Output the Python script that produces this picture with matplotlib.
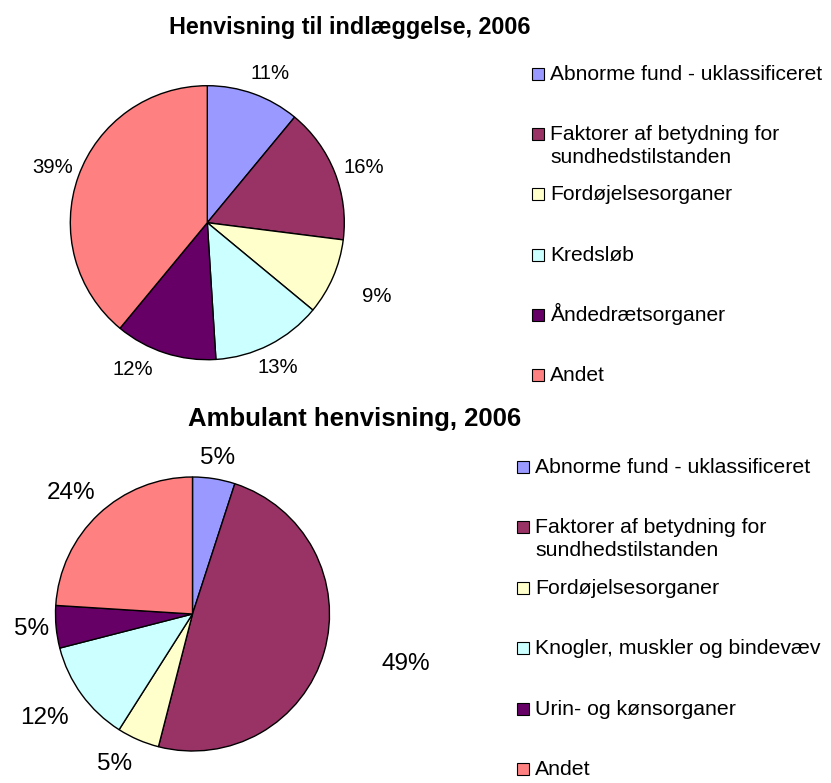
import numpy as np
import matplotlib.pyplot as plt
from matplotlib.patches import Rectangle

plt.rcParams['font.family'] = ['Liberation Sans', 'DejaVu Sans']

# --- data ---
title_top = 'Henvisning til indlæggelse, 2006'
cats_top = ['Abnorme fund - uklassificeret', 'Faktorer af betydning for\nsundhedstilstanden',
            'Fordøjelsesorganer', 'Kredsløb', 'Åndedrætsorganer', 'Andet']
vals_top = [11, 16, 9, 13, 12, 39]

title_bot = 'Ambulant henvisning, 2006'
cats_bot = ['Abnorme fund - uklassificeret', 'Faktorer af betydning for\nsundhedstilstanden',
            'Fordøjelsesorganer', 'Knogler, muskler og bindevæv', 'Urin- og kønsorganer', 'Andet']
vals_bot = [5, 49, 5, 12, 5, 24]

colors = ['#9999FF', '#993366', '#FFFFCC', '#CCFFFF', '#660066', '#FF8080']

# label placement (distance in radii, angle nudge in degrees)
dist_top = [1.18, 1.21, 1.35, 1.18, 1.2, 1.2]
nudge_top = [-3, -2, 0, -1, -9, 0]
dist_bot = [1.15, 1.6, 1.23, 1.32, 1.18, 1.25]
nudge_bot = [0, 3, -4, -1, 0, 2]

W, H = 831, 783
fig = plt.figure(figsize=(W / 100, H / 100), dpi=100)
R = 137  # pie radius in px


def draw_pie(cx, cy, vals, dists, nudges, fs, half=200):
    ax = fig.add_axes([(cx - half) / W, (H - cy - half) / H, 2 * half / W, 2 * half / H])
    wedges, _ = ax.pie(vals, colors=colors, startangle=90, counterclock=False, radius=1,
                       wedgeprops=dict(edgecolor='black', linewidth=1.0))
    lim = half / R
    ax.set_xlim(-lim, lim)
    ax.set_ylim(-lim, lim)
    ax.set_aspect('equal')
    ax.axis('off')
    for w, v, d, n in zip(wedges, vals, dists, nudges):
        a = np.deg2rad((w.theta1 + w.theta2) / 2 + n)
        ax.text(d * np.cos(a), d * np.sin(a), f'{v}%', ha='center', va='center', fontsize=fs)
    return ax


def draw_legend(cats, x_box, y_first, step, fs):
    for i, (c, col) in enumerate(zip(cats, colors)):
        yb = y_first + i * step  # baseline in px
        fig.patches.append(Rectangle((x_box / W, (H - yb) / H), 12 / W, 12 / H,
                                     transform=fig.transFigure, facecolor=col,
                                     edgecolor='black', linewidth=0.8))
        for k, line in enumerate(c.split('\n')):
            fig.text((x_box + 18) / W, (H - yb - 23 * k) / H, line, ha='left',
                     va='baseline', fontsize=fs)


draw_pie(207.3, 222.7, vals_top, dist_top, nudge_top, 14.6)
draw_pie(192.5, 614, vals_bot, dist_bot, nudge_bot, 17.5)

fig.text(350 / W, (H - 34) / H, title_top, ha='center', va='baseline',
         fontsize=16.8, fontweight='bold')
fig.text(355 / W, (H - 426) / H, title_bot, ha='center', va='baseline',
         fontsize=18.5, fontweight='bold')

draw_legend(cats_top, 532, 80, 60.2, 15.1)
draw_legend(cats_bot, 517, 473, 60.4, 15.3)

fig.savefig('out.png', dpi=100)
